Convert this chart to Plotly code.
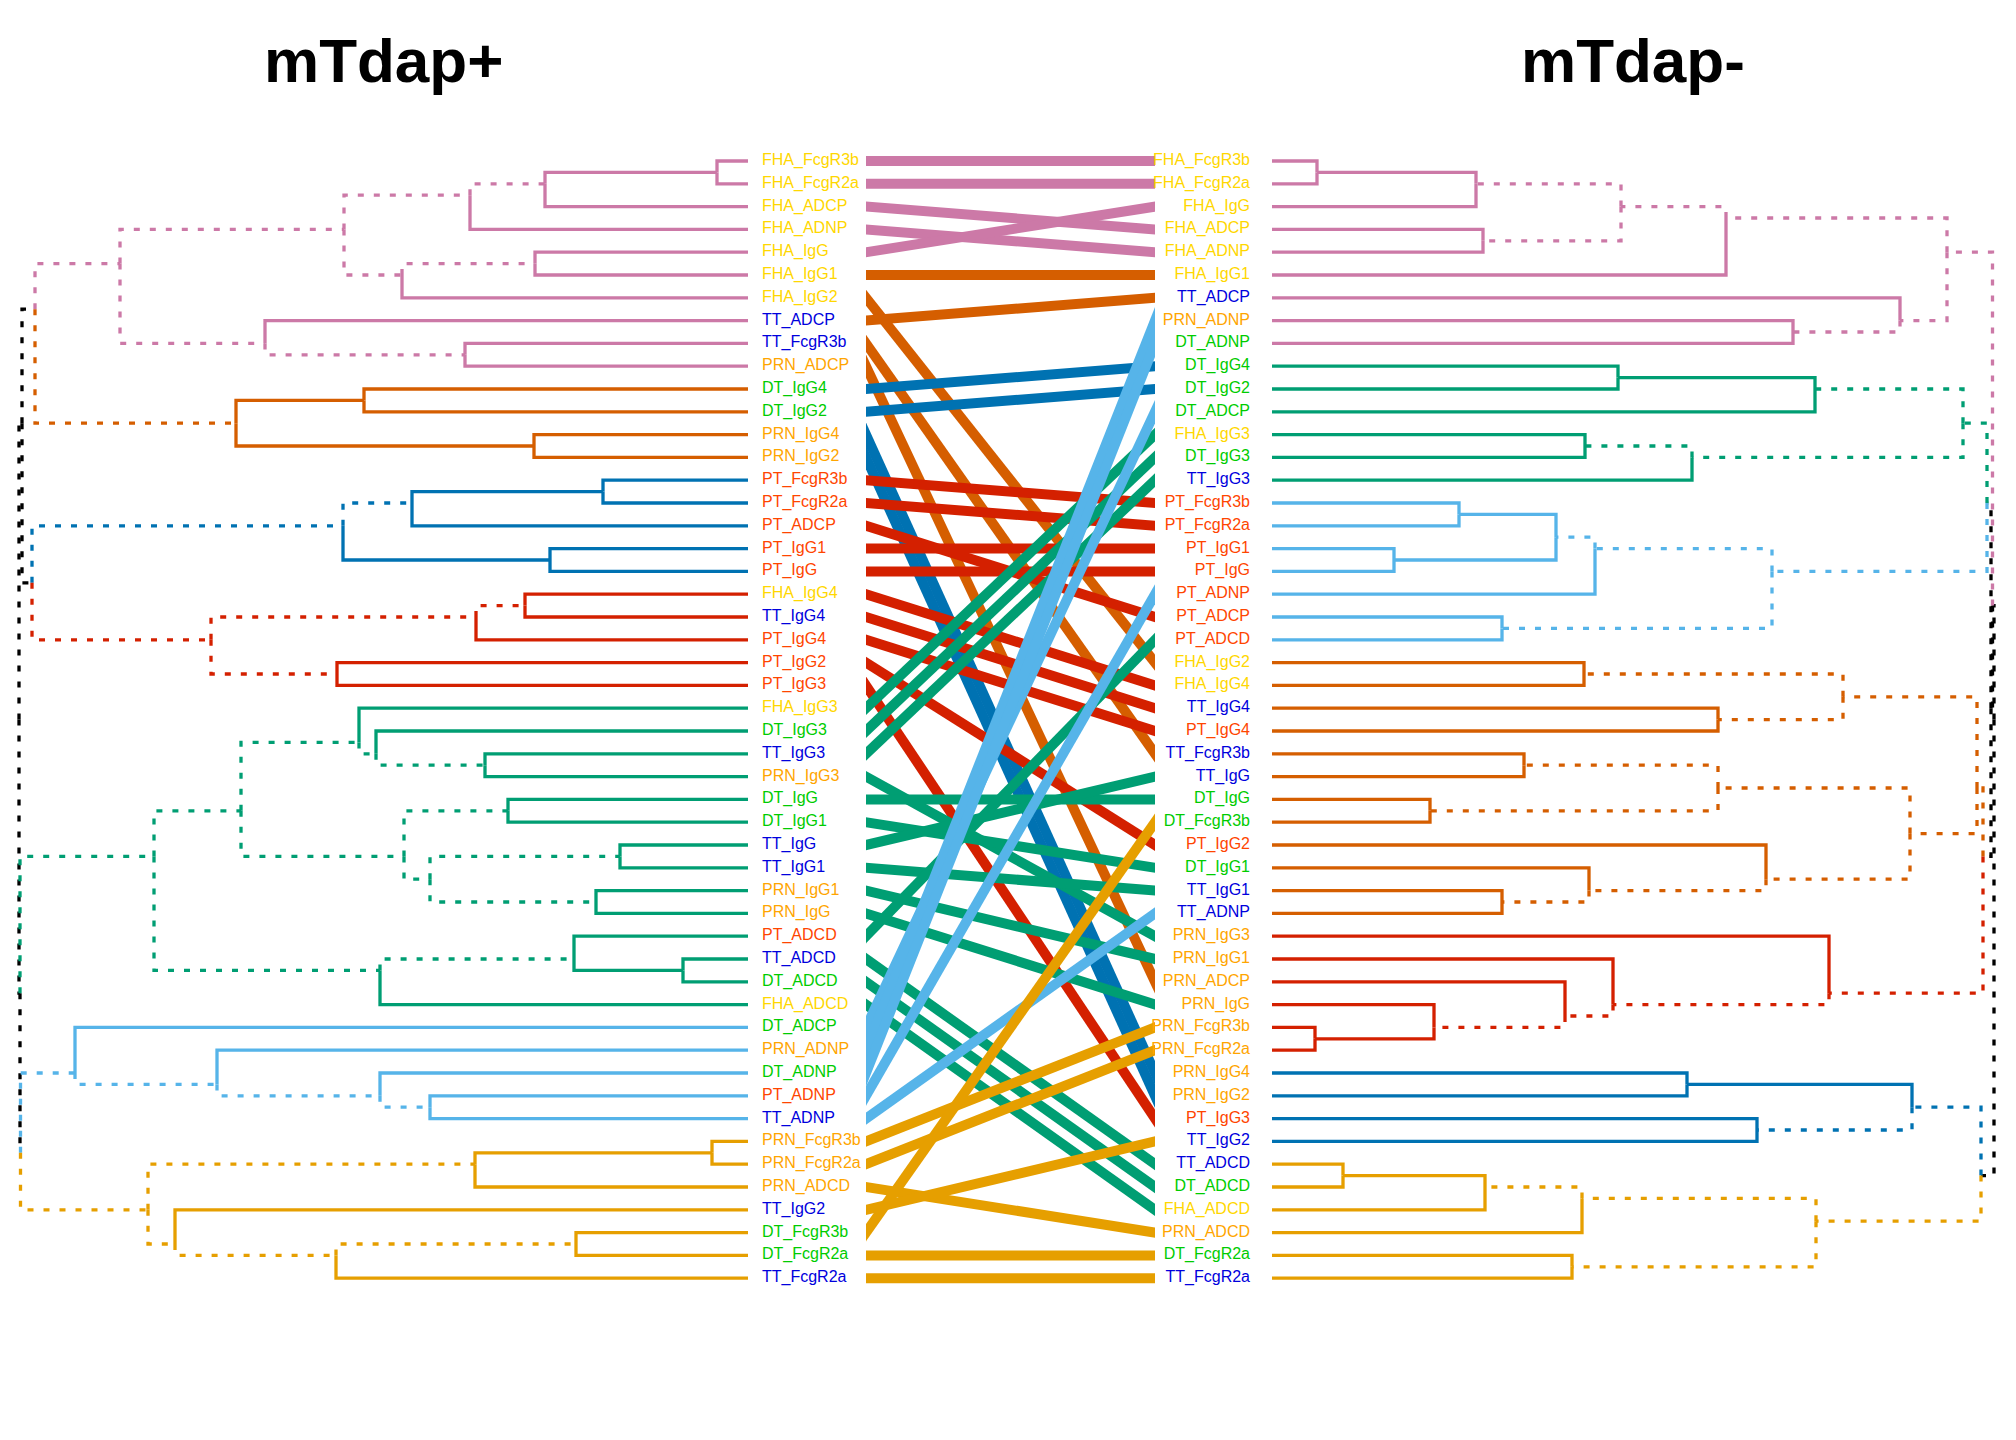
import plotly.graph_objects as go

# feuilles dans l'ordre d'affichage (haut -> bas)
left_leaves = [
    "FHA_FcgR3b", "FHA_FcgR2a", "FHA_ADCP", "FHA_ADNP", "FHA_IgG", "FHA_IgG1", "FHA_IgG2",
    "TT_ADCP", "TT_FcgR3b", "PRN_ADCP", "DT_IgG4", "DT_IgG2", "PRN_IgG4", "PRN_IgG2",
    "PT_FcgR3b", "PT_FcgR2a", "PT_ADCP", "PT_IgG1", "PT_IgG", "FHA_IgG4", "TT_IgG4",
    "PT_IgG4", "PT_IgG2", "PT_IgG3", "FHA_IgG3", "DT_IgG3", "TT_IgG3", "PRN_IgG3",
    "DT_IgG", "DT_IgG1", "TT_IgG", "TT_IgG1", "PRN_IgG1", "PRN_IgG", "PT_ADCD", "TT_ADCD",
    "DT_ADCD", "FHA_ADCD", "DT_ADCP", "PRN_ADNP", "DT_ADNP", "PT_ADNP", "TT_ADNP",
    "PRN_FcgR3b", "PRN_FcgR2a", "PRN_ADCD", "TT_IgG2", "DT_FcgR3b", "DT_FcgR2a", "TT_FcgR2a",
]
right_leaves = [
    "FHA_FcgR3b", "FHA_FcgR2a", "FHA_IgG", "FHA_ADCP", "FHA_ADNP", "FHA_IgG1", "TT_ADCP",
    "PRN_ADNP", "DT_ADNP", "DT_IgG4", "DT_IgG2", "DT_ADCP", "FHA_IgG3", "DT_IgG3", "TT_IgG3",
    "PT_FcgR3b", "PT_FcgR2a", "PT_IgG1", "PT_IgG", "PT_ADNP", "PT_ADCP", "PT_ADCD",
    "FHA_IgG2", "FHA_IgG4", "TT_IgG4", "PT_IgG4", "TT_FcgR3b", "TT_IgG", "DT_IgG",
    "DT_FcgR3b", "PT_IgG2", "DT_IgG1", "TT_IgG1", "TT_ADNP", "PRN_IgG3", "PRN_IgG1",
    "PRN_ADCP", "PRN_IgG", "PRN_FcgR3b", "PRN_FcgR2a", "PRN_IgG4", "PRN_IgG2", "PT_IgG3",
    "TT_IgG2", "TT_ADCD", "DT_ADCD", "FHA_ADCD", "PRN_ADCD", "DT_FcgR2a", "TT_FcgR2a",
]

# fusions : (noeud, enfant a, enfant b, hauteur, a pointillé, b pointillé)
left_merges = [
    ("n1", "FHA_FcgR3b", "FHA_FcgR2a", 0.31, 0, 0),
    ("n2", "n1", "FHA_ADCP", 2.03, 0, 0),
    ("n3", "n2", "FHA_ADNP", 2.78, 1, 0),
    ("n4", "FHA_IgG", "FHA_IgG1", 2.13, 0, 0),
    ("n5", "n4", "FHA_IgG2", 3.46, 1, 0),
    ("n6", "n3", "n5", 4.04, 1, 1),
    ("n7", "TT_FcgR3b", "PRN_ADCP", 2.83, 0, 0),
    ("n8", "TT_ADCP", "n7", 4.83, 0, 1),
    ("n9", "n6", "n8", 6.28, 1, 1),
    ("n10", "DT_IgG4", "DT_IgG2", 3.84, 0, 0),
    ("n11", "PRN_IgG4", "PRN_IgG2", 2.14, 0, 0),
    ("n12", "n10", "n11", 5.12, 0, 0),
    ("n13", "n9", "n12", 7.13, 1, 1),
    ("n14", "PT_FcgR3b", "PT_FcgR2a", 1.45, 0, 0),
    ("n15", "n14", "PT_ADCP", 3.36, 0, 0),
    ("n16", "PT_IgG1", "PT_IgG", 1.98, 0, 0),
    ("n17", "n15", "n16", 4.05, 1, 0),
    ("n18", "FHA_IgG4", "TT_IgG4", 2.23, 0, 0),
    ("n19", "n18", "PT_IgG4", 2.72, 1, 0),
    ("n20", "PT_IgG2", "PT_IgG3", 4.11, 0, 0),
    ("n21", "n19", "n20", 5.37, 1, 1),
    ("n22", "n17", "n21", 7.16, 1, 1),
    ("n23", "n13", "n22", 7.26, 1, 1),
    ("g1", "TT_IgG3", "PRN_IgG3", 2.63, 0, 0),
    ("g2", "DT_IgG3", "g1", 3.72, 0, 1),
    ("g3", "FHA_IgG3", "g2", 3.89, 0, 1),
    ("g4", "DT_IgG", "DT_IgG1", 2.40, 0, 0),
    ("g5", "TT_IgG", "TT_IgG1", 1.28, 0, 0),
    ("g6", "PRN_IgG1", "PRN_IgG", 1.52, 0, 0),
    ("g7", "g5", "g6", 3.18, 1, 1),
    ("g8", "g4", "g7", 3.44, 1, 1),
    ("g9", "g3", "g8", 5.07, 1, 1),
    ("g10", "TT_ADCD", "DT_ADCD", 0.65, 0, 0),
    ("g11", "PT_ADCD", "g10", 1.74, 0, 0),
    ("g12", "g11", "FHA_ADCD", 3.68, 1, 0),
    ("g13", "g9", "g12", 5.94, 1, 1),
    ("b1", "PT_ADNP", "TT_ADNP", 3.18, 0, 0),
    ("b2", "DT_ADNP", "b1", 3.68, 0, 1),
    ("b3", "PRN_ADNP", "b2", 5.31, 0, 1),
    ("b4", "DT_ADCP", "b3", 6.73, 0, 1),
    ("o1", "PRN_FcgR3b", "PRN_FcgR2a", 0.36, 0, 0),
    ("o2", "o1", "PRN_ADCD", 2.73, 0, 0),
    ("o3", "DT_FcgR3b", "DT_FcgR2a", 1.72, 0, 0),
    ("o4", "o3", "TT_FcgR2a", 4.12, 1, 0),
    ("o5", "TT_IgG2", "o4", 5.73, 0, 1),
    ("o6", "o2", "o5", 6.00, 1, 1),
    ("t", "b4", "o6", 7.275, 1, 1),
    ("s", "g13", "t", 7.28, 1, 1),
    ("root", "n23", "s", 7.29, 1, 1),
]
right_merges = [
    ("r1", "FHA_FcgR3b", "FHA_FcgR2a", 0.45, 0, 0),
    ("r2", "r1", "FHA_IgG", 2.04, 0, 0),
    ("r3", "FHA_ADCP", "FHA_ADNP", 2.11, 0, 0),
    ("r4", "r2", "r3", 3.49, 1, 1),
    ("r5", "r4", "FHA_IgG1", 4.54, 1, 0),
    ("r6", "PRN_ADNP", "DT_ADNP", 5.21, 0, 0),
    ("r7", "TT_ADCP", "r6", 6.28, 0, 1),
    ("r8", "r5", "r7", 6.75, 1, 1),
    ("r9", "DT_IgG4", "DT_IgG2", 3.46, 0, 0),
    ("r10", "r9", "DT_ADCP", 5.43, 0, 0),
    ("r11", "FHA_IgG3", "DT_IgG3", 3.13, 0, 0),
    ("r12", "r11", "TT_IgG3", 4.20, 1, 0),
    ("r13", "r10", "r12", 6.91, 1, 1),
    ("r14", "PT_FcgR3b", "PT_FcgR2a", 1.87, 0, 0),
    ("r15", "PT_IgG1", "PT_IgG", 1.22, 0, 0),
    ("r16", "r14", "r15", 2.84, 0, 0),
    ("r17", "r16", "PT_ADNP", 3.23, 1, 0),
    ("r18", "PT_ADCP", "PT_ADCD", 2.30, 0, 0),
    ("r19", "r17", "r18", 5.00, 1, 1),
    ("rg", "r13", "r19", 7.15, 1, 1),
    ("r20", "FHA_IgG2", "FHA_IgG4", 3.12, 0, 0),
    ("r21", "TT_IgG4", "PT_IgG4", 4.46, 0, 0),
    ("r22", "r20", "r21", 5.71, 1, 1),
    ("r23", "TT_FcgR3b", "TT_IgG", 2.52, 0, 0),
    ("r24", "DT_IgG", "DT_FcgR3b", 1.58, 0, 0),
    ("r25", "r23", "r24", 4.46, 1, 1),
    ("r26", "TT_IgG1", "TT_ADNP", 2.30, 0, 0),
    ("r27", "DT_IgG1", "r26", 3.17, 0, 1),
    ("r28", "PT_IgG2", "r27", 4.94, 0, 1),
    ("r29", "r25", "r28", 6.38, 1, 1),
    ("r30", "r22", "r29", 7.05, 1, 1),
    ("r31", "PRN_FcgR3b", "PRN_FcgR2a", 0.43, 0, 0),
    ("r32", "PRN_IgG", "r31", 1.62, 0, 0),
    ("r33", "PRN_ADCP", "r32", 2.93, 0, 1),
    ("r34", "PRN_IgG1", "r33", 3.41, 0, 1),
    ("r35", "PRN_IgG3", "r34", 5.57, 0, 1),
    ("r36", "r30", "r35", 7.11, 1, 1),
    ("rn", "rg", "r36", 7.19, 1, 1),
    ("rw", "r8", "rn", 7.205, 1, 1),
    ("r37", "PRN_IgG4", "PRN_IgG2", 4.15, 0, 0),
    ("r38", "PT_IgG3", "TT_IgG2", 4.85, 0, 0),
    ("r39", "r37", "r38", 6.40, 0, 1),
    ("r40", "TT_ADCD", "DT_ADCD", 0.71, 0, 0),
    ("r41", "r40", "FHA_ADCD", 2.13, 0, 0),
    ("r42", "r41", "PRN_ADCD", 3.10, 1, 0),
    ("r43", "DT_FcgR2a", "TT_FcgR2a", 3.00, 0, 0),
    ("r44", "r42", "r43", 5.44, 1, 1),
    ("r45", "r39", "r44", 7.09, 1, 1),
    ("root", "rw", "r45", 7.22, 1, 1),
]

PINK, VERM, BLUE, RED = "#CC79A7", "#D55E00", "#0072B2", "#D42000"
GREEN, SKY, GOLD = "#009E73", "#56B4E9", "#E69F00"

left_clusters = {"n9": PINK, "n12": VERM, "n17": BLUE, "n21": RED,
                 "g13": GREEN, "b4": SKY, "o6": GOLD}
right_clusters = {"r8": PINK, "r13": GREEN, "r19": SKY, "r30": VERM,
                  "r35": RED, "r39": BLUE, "r44": GOLD}

# couleurs des traits de liaison, par paquets de feuilles de gauche
line_group_sizes = [5, 5, 4, 10, 14, 5, 7]
line_group_colors = [PINK, VERM, BLUE, RED, GREEN, SKY, GOLD]

label_colors = {"FHA": "#FFD700", "PRN": "#FFA500", "DT": "#00CC00",
                "TT": "#0000DD", "PT": "#FF4500"}

titles = ["mTdap+", "mTdap-"]

FONT = "Liberation Sans, Arial, sans-serif"
DOT = "6px,10px"
W, H = 2016, 1440
OFF = 8  # marge par défaut du <body> de la page
STEP = 22.8  # écart entre feuilles, en px


def layout_tree(leaves, merges):
    pos, span, height, children = {}, {}, {}, {}
    for i, leaf in enumerate(leaves):
        pos[leaf] = i + 1
        span[leaf] = (i + 1, i + 1)
        height[leaf] = 0.0
    for name, a, b, h, da, db in merges:
        lo = min(span[a][0], span[b][0])
        hi = max(span[a][1], span[b][1])
        span[name] = (lo, hi)
        pos[name] = (lo + hi) / 2  # centré sur les feuilles
        height[name] = h
        children[name] = ((a, da), (b, db))
    return pos, height, children, merges[-1][0]


def tree_traces(leaves, merges, clusters, xaxis):
    pos, height, children, root = layout_tree(leaves, merges)
    segs = {}

    def walk(node, color):
        for c, dotted in children.get(node, ()):
            cc = clusters.get(c, color)
            xs, ys = segs.setdefault((cc, dotted), ([], []))
            xs += [height[node], height[node], height[c], None]
            ys += [pos[node], pos[c], pos[c], None]
            walk(c, cc)

    walk(root, "#000000")
    traces = []
    for (color, dotted), (xs, ys) in sorted(segs.items(), key=lambda kv: kv[0][1]):
        traces.append(go.Scatter(
            x=xs, y=ys, mode="lines", xaxis=xaxis, yaxis="y",
            line=dict(color=color, width=3.3, dash=DOT if dotted else "solid"),
            hoverinfo="skip", showlegend=False,
        ))
    return traces, height[root]


fig = go.Figure()

left_tr, left_root_h = tree_traces(left_leaves, left_merges, left_clusters, "x")
right_tr, right_root_h = tree_traces(right_leaves, right_merges, right_clusters, "x3")
for tr in left_tr + right_tr:
    fig.add_trace(tr)

# traits de liaison entre les deux arbres
line_colors = []
for n, col in zip(line_group_sizes, line_group_colors):
    line_colors += [col] * n
right_index = {name: i + 1 for i, name in enumerate(right_leaves)}
for i, name in enumerate(left_leaves):
    y0, y1 = i + 1, right_index[name]
    d = y1 - y0
    fig.add_trace(go.Scatter(
        x=[-0.05, 1.05], y=[y0 - 0.05 * d, y1 + 0.05 * d],
        mode="lines", xaxis="x2", yaxis="y",
        line=dict(color=line_colors[i], width=10),
        hoverinfo="skip", showlegend=False,
    ))

# étiquettes
fig.add_trace(go.Scatter(
    x=[-0.14] * len(left_leaves), y=list(range(1, len(left_leaves) + 1)),
    text=left_leaves, mode="text", textposition="middle right",
    textfont=dict(family=FONT, size=16,
                  color=[label_colors[s.split("_")[0]] for s in left_leaves]),
    xaxis="x", yaxis="y", cliponaxis=False, hoverinfo="skip", showlegend=False,
))
fig.add_trace(go.Scatter(
    x=[-0.22] * len(right_leaves), y=list(range(1, len(right_leaves) + 1)),
    text=right_leaves, mode="text", textposition="middle left",
    textfont=dict(family=FONT, size=16,
                  color=[label_colors[s.split("_")[0]] for s in right_leaves]),
    xaxis="x3", yaxis="y", cliponaxis=False, hoverinfo="skip", showlegend=False,
))

fig.add_annotation(x=left_root_h / 2, xref="x", y=1 - (61 - OFF) / H, yref="paper",
                   xanchor="center", yanchor="middle",
                   text="<b>" + titles[0] + "</b>", showarrow=False,
                   font=dict(family=FONT, size=62, color="black"))
fig.add_annotation(x=right_root_h / 2, xref="x3", y=1 - (61 - OFF) / H, yref="paper",
                   xanchor="center", yanchor="middle",
                   text="<b>" + titles[1] + "</b>", showarrow=False,
                   font=dict(family=FONT, size=62, color="black"))

# échelles : hauteur = distance aux feuilles / 100 px
hidden = dict(visible=False, showgrid=False, zeroline=False, fixedrange=True)
fig.update_layout(
    width=W, height=H,
    margin=dict(l=0, r=0, t=0, b=0),
    paper_bgcolor="white", plot_bgcolor="white",
    showlegend=False,
    xaxis=dict(domain=[0, 0.5], range=[(748 - OFF) / 100, (748 - OFF - W / 2) / 100],
               anchor="y", **hidden),
    xaxis2=dict(domain=[(866 - OFF) / W, (1155 - OFF) / W], range=[0, 1], anchor="y", **hidden),
    xaxis3=dict(domain=[0.5, 1], range=[(W / 2 + OFF - 1272) / 100, (W + OFF - 1272) / 100],
                anchor="y", **hidden),
    yaxis=dict(domain=[0, 1], range=[1 + (H + OFF - 161) / STEP, 1 + (OFF - 161) / STEP],
               **hidden),
)

fig.write_html("out.html")
